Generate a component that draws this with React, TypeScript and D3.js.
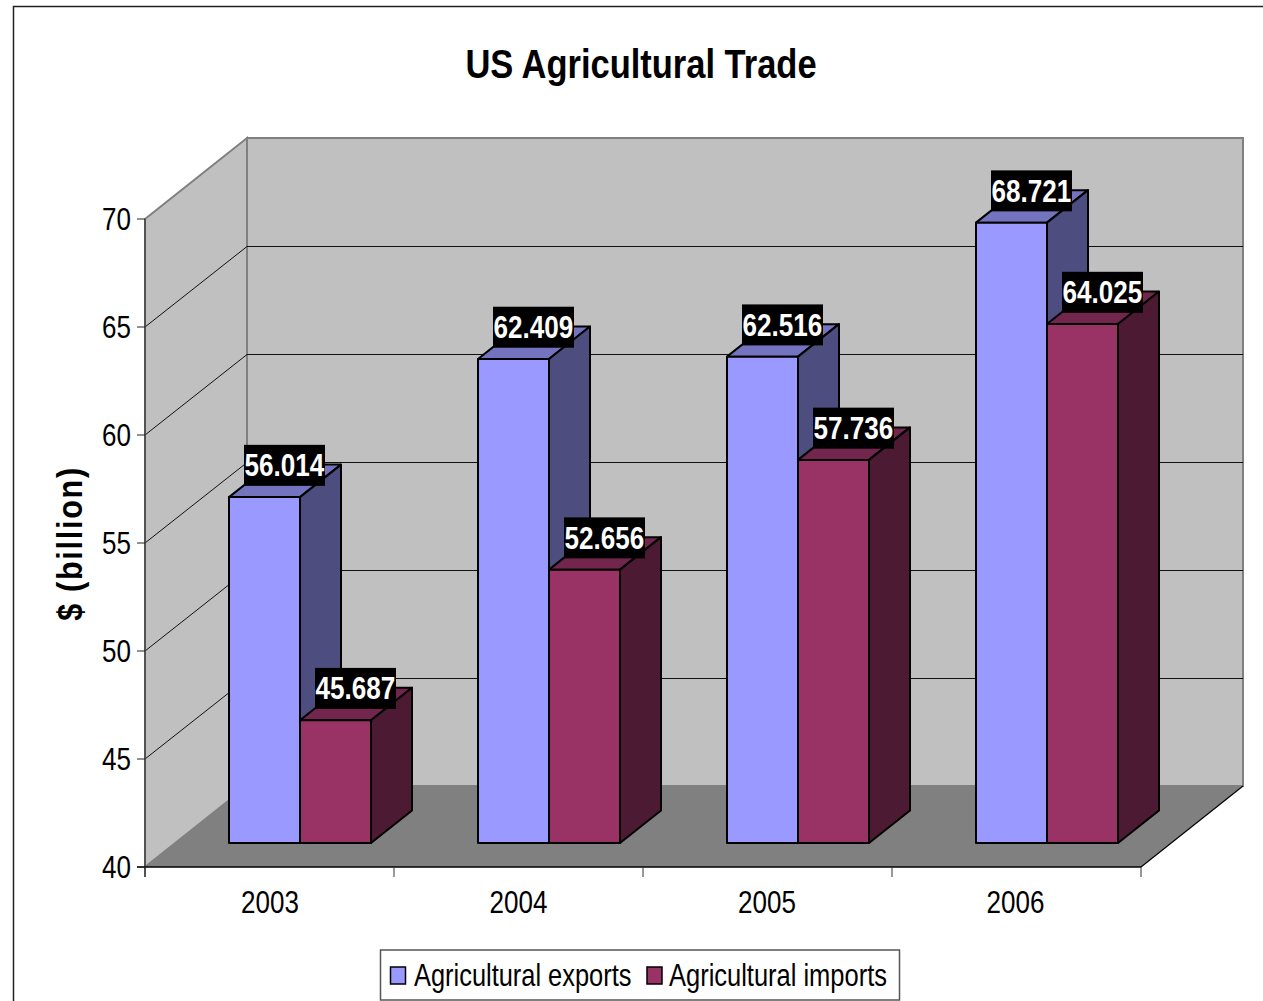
import React from "react";
import * as d3 from "d3";

const years = ["2003", "2004", "2005", "2006"];
const exportsValues = [56.014, 62.409, 62.516, 68.721];
const importsValues = [45.687, 52.656, 57.736, 64.025];
const valueTicks = [40, 45, 50, 55, 60, 65, 70];
const seriesNames = ["Agricultural exports", "Agricultural imports"];
const FONT = "'Liberation Sans', Arial, sans-serif";

const exportShades = { front: "#9999FF", top: "#7373BF", side: "#4D4D80" };
const importShades = { front: "#993366", top: "#73264D", side: "#4D1A33" };

// Oblique projection of the plot box
const frontX0 = 145, frontX1 = 1141, floorY = 867;
const boxDX = 102, boxDY = -81;
const barDX = 41, barDY = -32.5;
const barPlaneDX = 30, barPlaneDY = -24;
const unit = 21.6;

const yFront = d3.scaleLinear().domain([40, 70]).range([floorY, floorY - 30 * unit]);
const xBand = d3.scaleBand<string>().domain(years).range([frontX0, frontX1]);
const slot = d3.scaleBand<string>().domain(["exports", "imports"]).range([54, 196]);
const yearLabelX = d3.scalePoint<string>().domain(years).range([270, 1015.5]);

const poly = (pts: number[][]) => pts.map((p) => p.join(",")).join(" ");

function Txt({ x, y, size, bold, fill = "#000", anchor = "middle", sx = 0.84, children }: any) {
  return (
    <text
      transform={`translate(${x},${y}) scale(${sx},1)`}
      fontFamily={FONT}
      fontSize={size}
      fontWeight={bold ? 700 : 400}
      textAnchor={anchor}
      fill={fill}
    >
      {children}
    </text>
  );
}

function Bar({ year, series, value, shades }: any) {
  const x0 = xBand(year)! + slot(series)! + barPlaneDX;
  const x1 = x0 + slot.bandwidth();
  const base = yFront(40) + barPlaneDY;
  const top = base - (yFront(40) - yFront(value));
  const stroke = { stroke: "#000", strokeWidth: 2, strokeLinejoin: "round" as const };
  return (
    <g>
      <polygon points={poly([[x0, top], [x1, top], [x1 + barDX, top + barDY], [x0 + barDX, top + barDY]])} fill={shades.top} {...stroke} />
      <polygon points={poly([[x1, top], [x1 + barDX, top + barDY], [x1 + barDX, base + barDY], [x1, base]])} fill={shades.side} {...stroke} />
      <rect x={x0} y={top} width={x1 - x0} height={base - top} fill={shades.front} {...stroke} />
    </g>
  );
}

function ValueLabel({ year, series, value }: any) {
  const x0 = xBand(year)! + slot(series)! + barPlaneDX;
  const cx = x0 + slot.bandwidth() / 2 + barDX / 2 - 0.5;
  const top = yFront(40) + barPlaneDY - (yFront(40) - yFront(value));
  const cy = top + barDY / 2 - 15.5;
  return (
    <g>
      <rect x={cx - 40.5} y={cy - 20.5} width={81} height={41} fill="#000" />
      <Txt x={cx} y={cy + 11} size={32} sx={0.815} bold fill="#fff">{value.toFixed(3)}</Txt>
    </g>
  );
}

export default function App() {
  const wall = "#C0C0C0", edge = "#808080";
  const backX0 = frontX0 + boxDX, backX1 = frontX1 + boxDX;
  return (
    <svg
      width={1263}
      height={1001}
      style={{ position: "absolute", left: 0, top: 0, display: "block" }}
    >
      <rect width={1263} height={1001} fill="#fff" />
      <path d="M13.5,1001V6.5H1263" fill="none" stroke="#222" strokeWidth={1.5} />

      <Txt x={641} y={78} size={40} sx={0.862} bold>US Agricultural Trade</Txt>

      {/* walls and floor */}
      <polygon points={poly([[backX0, yFront(70) + boxDY], [backX1, yFront(70) + boxDY], [backX1, floorY + boxDY], [backX0, floorY + boxDY]])} fill={wall} stroke={edge} strokeWidth={2} />
      <polygon points={poly([[frontX0, yFront(70)], [backX0, yFront(70) + boxDY], [backX0, floorY + boxDY], [frontX0, floorY]])} fill={wall} stroke={edge} strokeWidth={2} />
      <polygon points={poly([[frontX0, floorY], [backX0, floorY + boxDY], [backX1, floorY + boxDY], [frontX1, floorY]])} fill={edge} />

      {/* gridlines running over the side wall and back wall */}
      {valueTicks.slice(1, -1).map((t) => (
        <polyline
          key={t}
          points={poly([[frontX0, yFront(t)], [backX0, Math.floor(yFront(t) + boxDY) + 0.5], [backX1, Math.floor(yFront(t) + boxDY) + 0.5]])}
          fill="none"
          stroke="#111"
          strokeWidth={1}
        />
      ))}

      {/* axes */}
      <line x1={frontX0} x2={frontX0} y1={yFront(70)} y2={floorY + 10} stroke="#444" strokeWidth={1.5} />
      <line x1={frontX0 - 8} x2={frontX1} y1={floorY} y2={floorY} stroke="#000" strokeWidth={1.5} />
      <line x1={frontX1} y1={floorY} x2={frontX1 + boxDX} y2={floorY + boxDY} stroke="#000" strokeWidth={1.2} />
      {valueTicks.map((t) => (
        <g key={t}>
          <line x1={frontX0 - 8} x2={frontX0} y1={yFront(t)} y2={yFront(t)} stroke="#222" strokeWidth={1} />
          <Txt x={131} y={yFront(t) + 10.5} size={31} anchor="end">{t}</Txt>
        </g>
      ))}
      {[...years, "end"].map((y, i) => {
        const x = frontX0 + i * xBand.bandwidth();
        return <line key={y} x1={x} x2={x} y1={floorY} y2={floorY + 10} stroke="#333" strokeWidth={1} />;
      })}
      {years.map((y) => (
        <Txt key={y} x={yearLabelX(y)!} y={912.5} size={31}>{y}</Txt>
      ))}

      {/* bars */}
      {years.map((y, i) => (
        <g key={y}>
          <Bar year={y} series="exports" value={exportsValues[i]} shades={exportShades} />
          <Bar year={y} series="imports" value={importsValues[i]} shades={importShades} />
        </g>
      ))}

      {/* value labels */}
      {years.map((y, i) => (
        <g key={y}>
          <ValueLabel year={y} series="exports" value={exportsValues[i]} />
          <ValueLabel year={y} series="imports" value={importsValues[i]} />
        </g>
      ))}

      <text
        transform="translate(82,543.5) rotate(-90) scale(0.85,1)"
        fontFamily={FONT}
        fontSize={36}
        fontWeight={700}
        letterSpacing={2}
        textAnchor="middle"
      >
        $ (billion)
      </text>

      {/* legend */}
      <rect x={380.5} y={950} width={519} height={50} fill="#fff" stroke="#555" strokeWidth={1.5} />
      <rect x={390.5} y={967} width={15} height={17} fill={exportShades.front} stroke="#000" strokeWidth={1.5} />
      <Txt x={414} y={985.5} size={31} sx={0.82} anchor="start">{seriesNames[0]}</Txt>
      <rect x={647} y={967} width={15} height={17} fill={importShades.front} stroke="#000" strokeWidth={1.5} />
      <Txt x={669} y={985.5} size={31} sx={0.822} anchor="start">{seriesNames[1]}</Txt>
    </svg>
  );
}
